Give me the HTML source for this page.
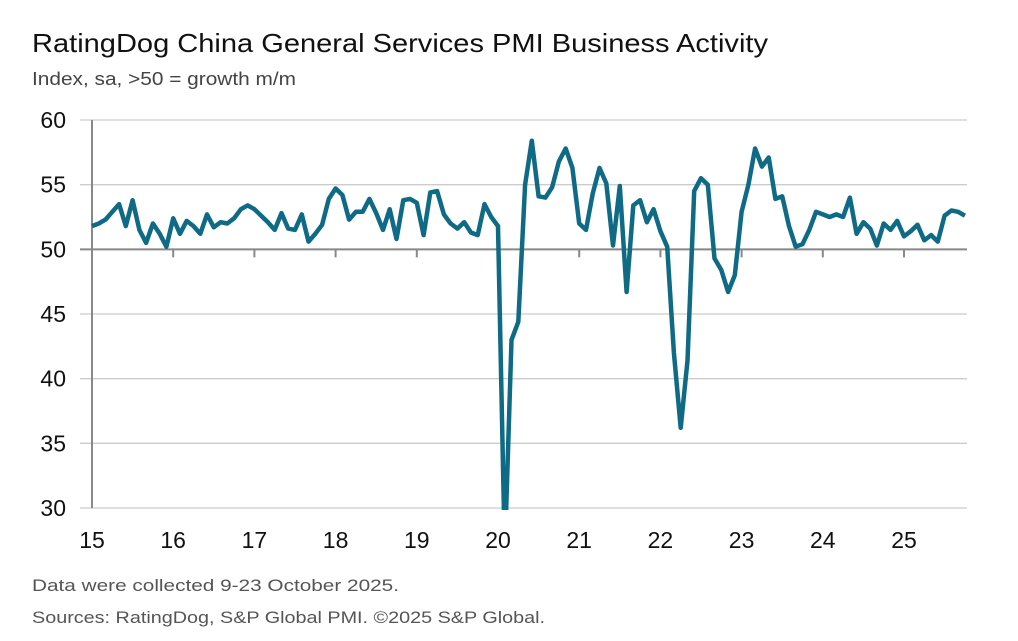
<!DOCTYPE html>
<html><head><meta charset="utf-8"><style>
body{margin:0;background:#fff;font-family:"Liberation Sans",sans-serif;}
svg{display:block}
</style></head><body>
<svg width="1018" height="641" viewBox="0 0 1018 641">
<text x="32" y="52" font-size="26" fill="#111" textLength="736" lengthAdjust="spacingAndGlyphs">RatingDog China General Services PMI Business Activity</text>
<text x="32" y="85" font-size="18" fill="#444" textLength="264" lengthAdjust="spacingAndGlyphs">Index, sa, &gt;50 = growth m/m</text>
<g id="grid"></g>
<g id="yl"></g>
<g id="xl"></g>
<defs><clipPath id="cp"><rect x="80" y="118" width="890" height="392"/></clipPath></defs>
<path id="ln" fill="none" stroke="#0f6b85" stroke-width="4.5" stroke-linejoin="round" clip-path="url(#cp)"/>
<text x="32" y="591" font-size="17" fill="#555" textLength="367" lengthAdjust="spacingAndGlyphs">Data were collected 9-23 October 2025.</text>
<text x="32" y="623" font-size="17" fill="#555" textLength="513" lengthAdjust="spacingAndGlyphs">Sources: RatingDog, S&amp;P Global PMI. ©2025 S&amp;P Global.</text>
</svg>
<script>
const yTicks=[60,55,50,45,40,35,30];
const xLabels=["15","16","17","18","19","20","21","22","23","24","25"];
const values=[51.8,52.0,52.3,52.9,53.5,51.8,53.8,51.5,50.5,52.0,51.2,50.2,
52.4,51.2,52.2,51.8,51.2,52.7,51.7,52.1,52.0,52.4,53.1,53.4,
53.1,52.6,52.1,51.5,52.8,51.6,51.5,52.7,50.6,51.2,51.9,53.9,
54.7,54.2,52.3,52.9,52.9,53.9,52.8,51.5,53.1,50.8,53.8,53.9,
53.6,51.1,54.4,54.5,52.7,52.0,51.6,52.1,51.3,51.1,53.5,52.5,
51.8,26.5,43.0,44.4,55.0,58.4,54.1,54.0,54.8,56.8,57.8,56.3,
52.0,51.5,54.3,56.3,55.1,50.3,54.9,46.7,53.4,53.8,52.1,53.1,
51.4,50.2,42.0,36.2,41.4,54.5,55.5,55.0,49.3,48.4,46.7,48.0,
52.9,55.0,57.8,56.4,57.1,53.9,54.1,51.8,50.2,50.4,51.5,52.9,
52.7,52.5,52.7,52.5,54.0,51.2,52.1,51.6,50.3,52.0,51.5,52.2,
51.0,51.4,51.9,50.7,51.1,50.6,52.6,53.0,52.9,52.6];
const NS="http://www.w3.org/2000/svg";
const x0=92,mw=81.2/12;
const X=i=>x0+i*mw;
const Y=v=>120+(60-v)*(388/30);
function mk(t,a,p){const e=document.createElementNS(NS,t);for(const k in a)e.setAttribute(k,a[k]);p.appendChild(e);return e;}
const grid=document.getElementById('grid'),yl=document.getElementById('yl'),xl=document.getElementById('xl');
yTicks.forEach(v=>{
 const l=mk('line',{x1:80,x2:967,y1:Y(v),y2:Y(v),stroke:v===50?'#888':'#ccc','stroke-width':v===50?2:1.3},grid);
 
 
 const t=mk('text',{x:66,y:Y(v)+8,'font-size':23,'text-anchor':'end',fill:'#111'},yl);
 t.textContent=v;
 
 
});
const ax=mk('line',{x1:92,x2:92,y1:120,y2:508,stroke:'#888','stroke-width':2},grid);


xLabels.forEach((s,i)=>{
 const x=X(i*12);
 if(i>0){const tk=mk('line',{x1:x,x2:x,y1:Y(50),y2:Y(50)+8,stroke:'#888','stroke-width':2},grid);
 
 }
 const t=mk('text',{x:x,y:548,'font-size':23,'text-anchor':'middle',fill:'#111'},xl);
 t.textContent=s;
 
 
});
document.getElementById('ln').setAttribute('d',values.map((v,i)=>(i?'L':'M')+X(i).toFixed(1)+','+Y(v).toFixed(1)).join(''));
</script>
</body></html>
